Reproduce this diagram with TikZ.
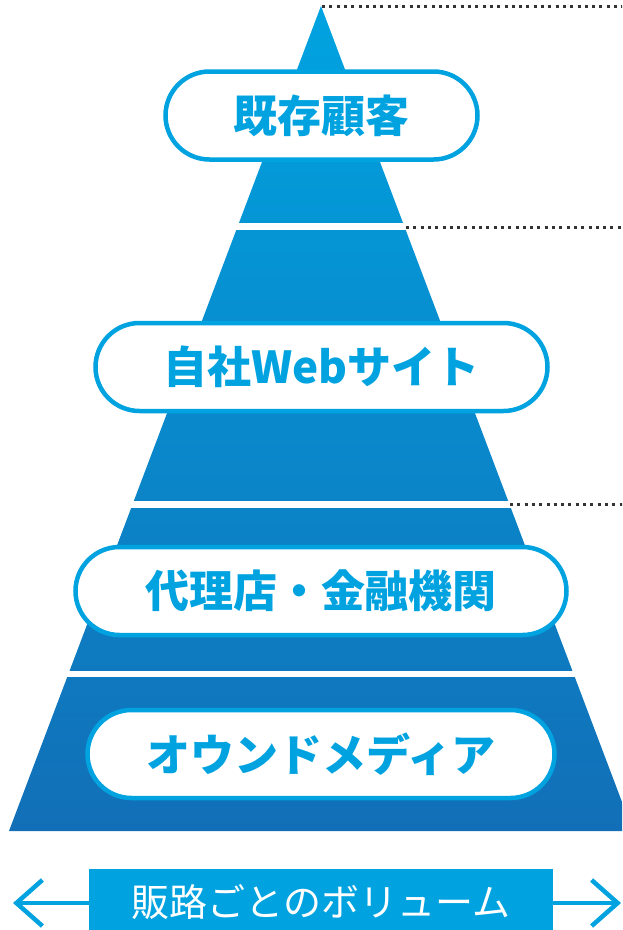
\documentclass[tikz,border=0pt]{standalone}
\usepackage{fontspec}
\newfontfamily\jp{Noto Sans CJK JP}
\usetikzlibrary{shapes.misc,arrows.meta}
\definecolor{cyanb}{HTML}{00A3E0}
\definecolor{pyrtop}{HTML}{00A3E0}
\definecolor{pyrbot}{HTML}{126FB7}
\definecolor{dotgray}{HTML}{333333}
\tikzset{
  pill/.style={rounded rectangle, draw=cyanb, line width=4.5pt, fill=white,
    text=cyanb, font=\jp\bfseries\fontsize{44}{44}\selectfont, inner sep=0pt,
    minimum height=88pt},
  band/.style={fill=white},
  leader/.style={draw=dotgray, line width=3pt, dash pattern=on 3pt off 4.3pt},
  volbox/.style={fill=cyanb, text=white, inner sep=0pt,
    font=\jp\fontsize{38}{38}\selectfont, minimum width=464pt, minimum height=66pt},
  volarrow/.style={draw=cyanb, line width=4.5pt,
    -{Straight Barb[length=26pt, width=46pt, line width=4.5pt]}}
}
\begin{document}
\begin{tikzpicture}[x=1pt,y=-1pt]
\useasboundingbox (0,0) rectangle (622,930);
\fill[white] (0,0) rectangle (622,930);
\clip (0,0) rectangle (622,930);
% pyramid
\shade[top color=pyrtop, bottom color=pyrbot] (321,6) -- (633,831) -- (9,831) -- cycle;
% bands
\fill[band] (0,223) rectangle (622,230);
\fill[band] (0,501) rectangle (622,508);
\fill[band] (0,671) rectangle (622,677);
% leader lines
\coordinate (apex) at (322,6);
\coordinate (apexR) at (625,6);
\coordinate (b1) at (406,227);
\coordinate (b1R) at (625,227);
\coordinate (b2) at (510,504);
\coordinate (b2R) at (625,504);
\draw[leader] (apex) -- (apexR);
\draw[leader] (b1) -- (b1R);
\draw[leader] (b2) -- (b2R);
% pills
\node[pill, minimum width=312pt] (p1) at (321.5,115.5) {既存顧客};
\node[pill, minimum width=452pt] (p2) at (321.5,367) {自社Webサイト};
\node[pill, minimum width=491pt] (p3) at (321,591) {代理店・金融機関};
\node[pill, minimum width=467pt] (p4) at (321,754) {オウンドメディア};
% volume
\node[volbox] (vol) at (321,902) {販路ごとのボリューム};
\coordinate (lt) at (13,903);
\coordinate (rt) at (621,903);
\draw[volarrow] (vol.west |- lt) -- (lt);
\draw[volarrow] (vol.east |- rt) -- (rt);
\end{tikzpicture}
\end{document}
